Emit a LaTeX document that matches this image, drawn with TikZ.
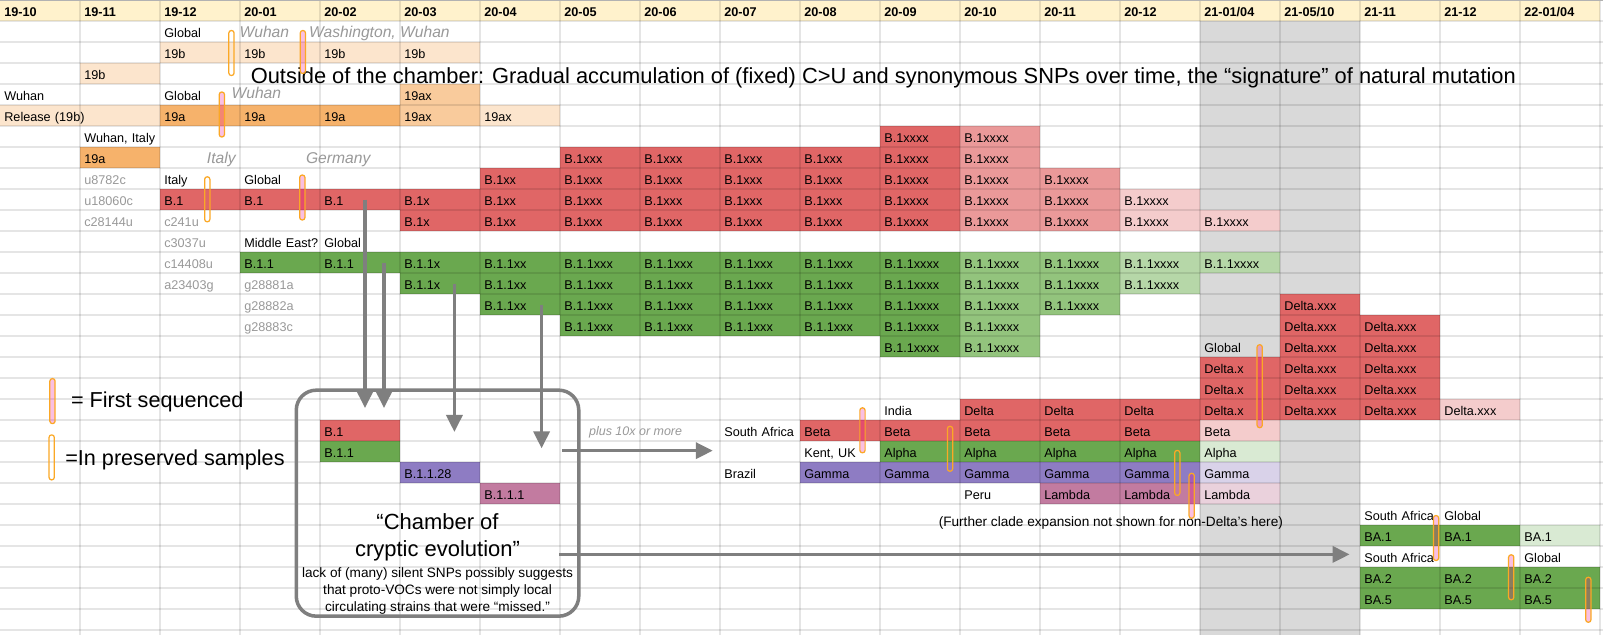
\documentclass[tikz,border=0pt]{standalone}
\usepackage{fontspec}
\setmainfont{Liberation Sans}
\usepackage{xcolor}
\usetikzlibrary{arrows.meta,positioning}
\definecolor{headyellow}{HTML}{FFF2CC}
\definecolor{peachC}{HTML}{FCE5CD}
\definecolor{peachB}{HTML}{F9CB9C}
\definecolor{orangeA}{HTML}{F6B26B}
\definecolor{redA}{HTML}{E06666}
\definecolor{redB}{HTML}{EA9999}
\definecolor{redC}{HTML}{F4CCCC}
\definecolor{greenA}{HTML}{6AA84F}
\definecolor{greenB}{HTML}{93C47D}
\definecolor{greenC}{HTML}{B6D7A8}
\definecolor{greenD}{HTML}{D9EAD3}
\definecolor{purpleA}{HTML}{8E7CC3}
\definecolor{purpleC}{HTML}{D9D2E9}
\definecolor{mauveA}{HTML}{C27BA0}
\definecolor{mauveC}{HTML}{EAD1DC}
\definecolor{colgray}{HTML}{D9D9D9}
\definecolor{labelgray}{HTML}{999999}
\definecolor{arrowgray}{HTML}{7F7F7F}
\definecolor{pillorange}{HTML}{FBA825}
\tikzstyle{cellbox} = [anchor=north west, rectangle, inner xsep=0.08cm, inner ysep=0pt, minimum width=1.6cm, minimum height=0.42cm, text width=1.44cm, align=left, text height=6.2pt, text depth=0pt, font=\fontsize{7.2}{8.6}\selectfont]
\tikzstyle{headbox} = [cellbox, fill=headyellow, font=\fontsize{7.2}{8.6}\selectfont\bfseries]
\tikzstyle{place} = [inner sep=0pt, text=labelgray, font=\fontsize{8.9}{10}\selectfont\itshape]
\tikzstyle{gridline} = [draw=black, draw opacity=0.1, line width=0.6pt]
\tikzstyle{firstseq} = [rectangle, draw=pillorange, line width=0.7pt, fill=magenta, fill opacity=0.25, minimum width=0.105cm, minimum height=0.9cm, inner sep=0pt, rounded corners=0.05cm]
\tikzstyle{preserved} = [firstseq, fill=none]
\tikzstyle{chamberbox} = [draw=arrowgray, line width=2pt, rounded corners=0.4cm, minimum width=5.65cm, minimum height=4.52cm]
\tikzstyle{bigarrow} = [draw=arrowgray, line width=2pt, -{Triangle[length=0.34cm,width=0.32cm]}]
\newcommand{\cl}[4][]{\node[cellbox,#1] (r#3c#2) at (#2,#3) {\mbox{#4}};}

\begin{document}
\begin{tikzpicture}[x=1.6cm, y=-0.42cm]
\useasboundingbox (0,0) rectangle (20.0375,30.238);
\fill[white] (0,0) rectangle (20.0375,30.238);
\fill[colgray] (15,1) rectangle (17,30.238);
\foreach \c/\m in {0/19-10,1/19-11,2/19-12,3/20-01,4/20-02,5/20-03,6/20-04,7/20-05,8/20-06,9/20-07,10/20-08,11/20-09,12/20-10,13/20-11,14/20-12,15/{21-01/04},16/{21-05/10},17/21-11,18/21-12,19/{22-01/04}}
  {\node[headbox] (h\c) at (\c,0) {\m};}
% 19b / 19a lineage
\cl{2}{1}{Global}
\foreach \c in {2,...,5} {\cl[fill=peachC]{\c}{2}{19b}}
\cl[fill=peachC]{1}{3}{19b}
\cl{0}{4}{Wuhan}
\cl{2}{4}{Global}
\cl[fill=peachB]{5}{4}{19ax}
\node[cellbox, fill=peachC, minimum width=3.2cm, text width=3.04cm] (r5c0) at (0,5) {Release (19b)};
\foreach \c in {2,3,4} {\cl[fill=orangeA]{\c}{5}{19a}}
\cl[fill=peachB]{5}{5}{19ax}
\cl[fill=peachC]{6}{5}{19ax}
\cl{1}{6}{Wuhan, Italy}
\cl[fill=orangeA]{1}{7}{19a}
% B.1
\cl[fill=redA]{11}{6}{B.1xxxx}
\cl[fill=redB]{12}{6}{B.1xxxx}
\foreach \c in {7,...,10} {\cl[fill=redA]{\c}{7}{B.1xxx}}
\cl[fill=redA]{11}{7}{B.1xxxx}
\cl[fill=redB]{12}{7}{B.1xxxx}
\cl[text=labelgray]{1}{8}{u8782c}
\cl{2}{8}{Italy}
\cl{3}{8}{Global}
\cl[fill=redA]{6}{8}{B.1xx}
\foreach \c in {7,...,10} {\cl[fill=redA]{\c}{8}{B.1xxx}}
\cl[fill=redA]{11}{8}{B.1xxxx}
\foreach \c in {12,13} {\cl[fill=redB]{\c}{8}{B.1xxxx}}
\cl[text=labelgray]{1}{9}{u18060c}
\foreach \c in {2,3,4} {\cl[fill=redA]{\c}{9}{B.1}}
\cl[fill=redA]{5}{9}{B.1x}
\cl[fill=redA]{6}{9}{B.1xx}
\foreach \c in {7,...,10} {\cl[fill=redA]{\c}{9}{B.1xxx}}
\cl[fill=redA]{11}{9}{B.1xxxx}
\foreach \c in {12,13} {\cl[fill=redB]{\c}{9}{B.1xxxx}}
\cl[fill=redC]{14}{9}{B.1xxxx}
\cl[text=labelgray]{1}{10}{c28144u}
\cl[text=labelgray]{2}{10}{c241u}
\cl[fill=redA]{5}{10}{B.1x}
\cl[fill=redA]{6}{10}{B.1xx}
\foreach \c in {7,...,10} {\cl[fill=redA]{\c}{10}{B.1xxx}}
\cl[fill=redA]{11}{10}{B.1xxxx}
\foreach \c in {12,13} {\cl[fill=redB]{\c}{10}{B.1xxxx}}
\foreach \c in {14,15} {\cl[fill=redC]{\c}{10}{B.1xxxx}}
% B.1.1
\cl[text=labelgray]{2}{11}{c3037u}
\cl{3}{11}{Middle East?}
\cl{4}{11}{Global}
\cl[text=labelgray]{2}{12}{c14408u}
\foreach \c in {3,4} {\cl[fill=greenA]{\c}{12}{B.1.1}}
\cl[fill=greenA]{5}{12}{B.1.1x}
\cl[fill=greenA]{6}{12}{B.1.1xx}
\foreach \c in {7,...,10} {\cl[fill=greenA]{\c}{12}{B.1.1xxx}}
\cl[fill=greenA]{11}{12}{B.1.1xxxx}
\foreach \c in {12,13} {\cl[fill=greenB]{\c}{12}{B.1.1xxxx}}
\foreach \c in {14,15} {\cl[fill=greenC]{\c}{12}{B.1.1xxxx}}
\cl[text=labelgray]{2}{13}{a23403g}
\cl[text=labelgray]{3}{13}{g28881a}
\cl[fill=greenA]{5}{13}{B.1.1x}
\cl[fill=greenA]{6}{13}{B.1.1xx}
\foreach \c in {7,...,10} {\cl[fill=greenA]{\c}{13}{B.1.1xxx}}
\cl[fill=greenA]{11}{13}{B.1.1xxxx}
\foreach \c in {12,13} {\cl[fill=greenB]{\c}{13}{B.1.1xxxx}}
\cl[fill=greenC]{14}{13}{B.1.1xxxx}
\cl[text=labelgray]{3}{14}{g28882a}
\cl[fill=greenA]{6}{14}{B.1.1xx}
\foreach \c in {7,...,10} {\cl[fill=greenA]{\c}{14}{B.1.1xxx}}
\cl[fill=greenA]{11}{14}{B.1.1xxxx}
\foreach \c in {12,13} {\cl[fill=greenB]{\c}{14}{B.1.1xxxx}}
\cl[text=labelgray]{3}{15}{g28883c}
\foreach \c in {7,...,10} {\cl[fill=greenA]{\c}{15}{B.1.1xxx}}
\cl[fill=greenA]{11}{15}{B.1.1xxxx}
\cl[fill=greenB]{12}{15}{B.1.1xxxx}
\cl[fill=greenA]{11}{16}{B.1.1xxxx}
\cl[fill=greenB]{12}{16}{B.1.1xxxx}
% Delta
\cl[fill=redA]{16}{14}{Delta.xxx}
\foreach \c in {16,17} {\cl[fill=redA]{\c}{15}{Delta.xxx}}
\cl{15}{16}{Global}
\foreach \c in {16,17} {\cl[fill=redA]{\c}{16}{Delta.xxx}}
\foreach \r in {17,18} {\cl[fill=redA]{15}{\r}{Delta.x}
  \cl[fill=redA]{16}{\r}{Delta.xxx}
  \cl[fill=redA]{17}{\r}{Delta.xxx}}
\cl{11}{19}{India}
\foreach \c in {12,13,14} {\cl[fill=redA]{\c}{19}{Delta}}
\cl[fill=redA]{15}{19}{Delta.x}
\foreach \c in {16,17} {\cl[fill=redA]{\c}{19}{Delta.xxx}}
\cl[fill=redC]{18}{19}{Delta.xxx}
% other VOCs
\cl{9}{20}{South Africa}
\foreach \c in {10,...,14} {\cl[fill=redA]{\c}{20}{Beta}}
\cl[fill=redC]{15}{20}{Beta}
\cl{10}{21}{Kent, UK}
\foreach \c in {11,...,14} {\cl[fill=greenA]{\c}{21}{Alpha}}
\cl[fill=greenD]{15}{21}{Alpha}
\cl{9}{22}{Brazil}
\foreach \c in {10,...,14} {\cl[fill=purpleA]{\c}{22}{Gamma}}
\cl[fill=purpleC]{15}{22}{Gamma}
\cl{12}{23}{Peru}
\foreach \c in {13,14} {\cl[fill=mauveA]{\c}{23}{Lambda}}
\cl[fill=mauveC]{15}{23}{Lambda}
% omicron
\cl{17}{24}{South Africa}
\cl{18}{24}{Global}
\foreach \c in {17,18} {\cl[fill=greenA]{\c}{25}{BA.1}}
\cl[fill=greenD]{19}{25}{BA.1}
\cl{17}{26}{South Africa}
\cl{19}{26}{Global}
\foreach \c in {17,18,19} {\cl[fill=greenA]{\c}{27}{BA.2}}
\foreach \c in {17,18,19} {\cl[fill=greenA]{\c}{28}{BA.5}}
% inside the chamber
\cl[fill=redA]{4}{20}{B.1}
\cl[fill=greenA]{4}{21}{B.1.1}
\cl[fill=purpleA]{5}{22}{B.1.1.28}
\cl[fill=mauveA]{6}{23}{B.1.1.1}
% grid
\foreach \i in {1,...,20} {\draw[gridline] (\i,0) -- (\i,30.238);}
\foreach \j in {1,...,30} {\draw[gridline] (0,\j) -- (20.0375,\j);}
\draw[black!30, line width=0.04cm] (0,0) -- (20.0375,0);
% places in italics
\node[place, anchor=base west] (wuhanA) at (2.99,1.776) {Wuhan};
\node[place, anchor=base west] (washington) at (3.86,1.776) {Washington, Wuhan};
\node[place, anchor=base west] (wuhanB) at (2.89,4.681) {Wuhan};
\node[place, anchor=base east] (italy) at (2.95,7.805) {Italy};
\node[place, anchor=base west] (germany) at (3.821,7.805) {Germany};
\node[anchor=base west, inner sep=0pt, font=\fontsize{12.44}{14}\selectfont] (outside) at (3.131,3.967) {Outside of the chamber: Gradual accumulation of (fixed) C>U and synonymous SNPs over time, the “signature” of natural mutation};
% legend
\node[firstseq] (leg1p) at (0.656,19.1) {};
\node[preserved] (leg2p) at (0.646,21.78) {};
\node[anchor=base west, inner sep=0pt, font=\fontsize{12.3}{14}\selectfont] (leg1) at (0.884,19.41) {= First sequenced};
\node[anchor=base west, inner sep=0pt, font=\fontsize{12.3}{14}\selectfont] (leg2) at (0.8125,22.19) {=In preserved samples};
% chamber
\node[chamberbox] (chamber) at (5.469,23.96) {};
\node[anchor=base, inner sep=0pt, font=\fontsize{12.5}{15}\selectfont] (chtitleA) at (5.469,25.205) {“Chamber of};
\node[anchor=base, inner sep=0pt, font=\fontsize{12.5}{15}\selectfont] (chtitleB) at (5.469,26.476) {cryptic evolution”};
\node[anchor=base, inner sep=0pt, font=\fontsize{7.75}{9.5}\selectfont] (noteA) at (5.469,27.51) {lack of (many) silent SNPs possibly suggests};
\node[anchor=base, inner sep=0pt, font=\fontsize{7.75}{9.5}\selectfont] (noteB) at (5.469,28.33) {that proto-VOCs were not simply local};
\node[anchor=base, inner sep=0pt, font=\fontsize{7.75}{9.5}\selectfont] (noteC) at (5.469,29.1) {circulating strains that were “missed.”};
\node[anchor=base west, inner sep=0pt, text=labelgray, font=\fontsize{7.1}{8}\selectfont\itshape] (plus) at (7.36,20.76) {plus 10x or more};
\node[anchor=base west, inner sep=0pt, font=\fontsize{7.75}{9.5}\selectfont] (further) at (11.73,25.07) {(Further clade expansion not shown for non-Delta’s here)};
% arrows
\coordinate (a1s) at (4.5625,9.5);
\coordinate (a1e) at (4.5625,19.43);
\coordinate (a2s) at (4.8,12.5);
\coordinate (a2e) at (4.8,19.43);
\coordinate (a3s) at (5.68,13.5);
\coordinate (a3e) at (5.68,20.57);
\coordinate (a4s) at (6.77,14.5);
\coordinate (a4e) at (6.77,21.35);
\coordinate (h1s) at (7.03,21.46);
\coordinate (h1e) at (8.91,21.46);
\coordinate (h2s) at (6.99,26.4);
\coordinate (h2e) at (16.87,26.4);
\draw[bigarrow] (a1s) -- (a1e);
\draw[bigarrow] (a2s) -- (a2e);
\draw[bigarrow] (a3s) -- (a3e);
\draw[bigarrow] (a4s) -- (a4e);
\draw[bigarrow] (h1s) -- (h1e);
\draw[bigarrow] (h2s) -- (h2e);
% sequencing markers
\node[preserved] (p1) at (2.893,2.524) {};
\node[firstseq, minimum height=0.86cm] (p2) at (3.786,2.476) {};
\node[firstseq] (p3) at (2.773,5.452) {};
\node[preserved] (p4) at (2.591,9.49) {};
\node[firstseq] (p5) at (3.779,9.405) {};
\node[firstseq] (p6) at (10.781,20.49) {};
\node[preserved] (p7) at (11.875,21.37) {};
\node[firstseq, minimum height=1.66cm] (p8) at (15.746,18.39) {};
\node[preserved] (p9) at (14.716,22.52) {};
\node[firstseq] (p10) at (14.896,23.61) {};
\node[firstseq] (p11) at (17.95,25.62) {};
\node[firstseq] (p12) at (18.89,27.49) {};
\node[firstseq] (p13) at (19.854,28.56) {};
\end{tikzpicture}
\end{document}
